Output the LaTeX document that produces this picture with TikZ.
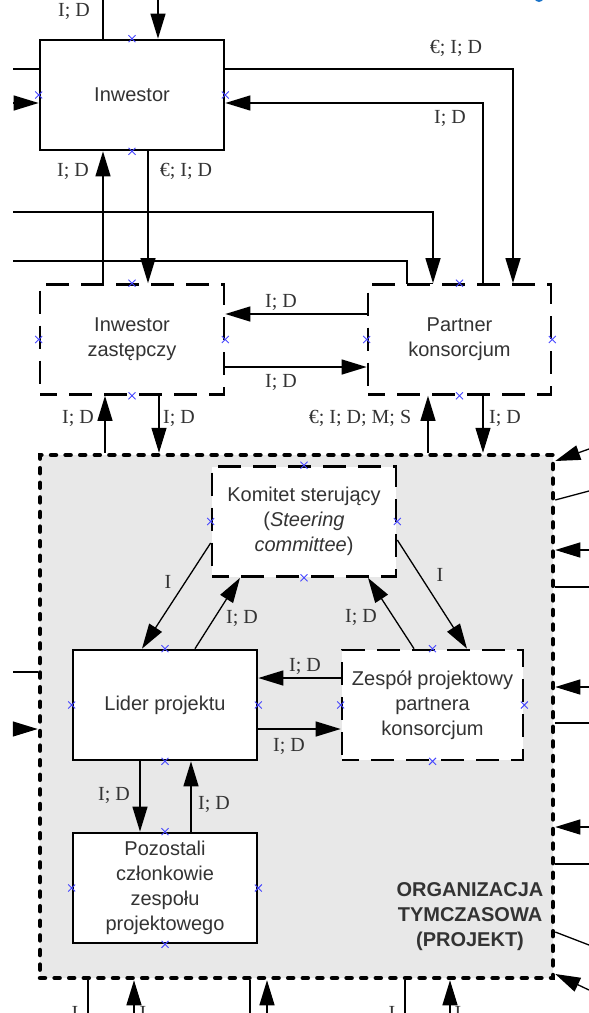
\documentclass[tikz,border=0pt]{standalone}
\usepackage{fontspec}
\setmainfont{Liberation Serif}
\setsansfont{Liberation Sans}
\usetikzlibrary{arrows.meta,calc}

\definecolor{txt}{HTML}{333333}
\definecolor{orgfill}{HTML}{E8E8E8}
\definecolor{xblue}{RGB}{70,70,255}
\definecolor{webblue}{HTML}{1A73C8}

\begin{document}
\begin{tikzpicture}[x=1pt,y=-1pt,
  box/.style={rectangle, draw=black, line width=2.7pt, fill=white, inner sep=0pt,
    font=\sffamily\fontsize{20}{25}\selectfont, text=txt, align=center,
    minimum width=184pt, minimum height=110pt},
  dashbox/.style={box, dash pattern=on 23pt off 12pt, dash phase=6pt},
  orgbox/.style={rectangle, draw=black, fill=orgfill, line width=4.5pt, line cap=round,
    dash pattern=on 5pt off 9.6pt, inner sep=0pt},
  conn/.style={line width=1.3pt, draw=black},
  arr/.style={conn, -{Triangle[length=25pt,width=15pt]}},
  lbl/.style={font=\fontsize{20}{24}\selectfont, text=txt, inner sep=0pt},
  midx/.pic={\draw[xblue, line width=0.9pt] (-3.5,-3.5) -- (3.5,3.5) (-3.5,3.5) -- (3.5,-3.5);},
]
\clip (0,0) rectangle (589,1013);

% temporary organisation (project) area
\node[orgbox, minimum width=513pt, minimum height=523pt] (org) at (296.5,716.5) {};
\node[font=\sffamily\bfseries\fontsize{20}{25}\selectfont, text=txt, align=center, inner sep=0pt]
  (orglbl) at (470,917) {ORGANIZACJA\\TYMCZASOWA\\(PROJEKT)};

% parties
\node[box] (inw) at (132,95) {Inwestor};
\node[dashbox] (iz) at (132,339.5) {Inwestor\\zastępczy};
\node[dashbox, minimum width=183pt] (pk) at (459.5,339.5) {Partner\\konsorcjum};
\node[dashbox] (kom) at (304,521.5) {Komitet sterujący\\(\textit{Steering}\\\textit{committee})};
\node[box] (lid) at (165,705) {Lider projektu};
\node[dashbox, minimum width=181pt] (zes) at (432.5,705) {Zespół projektowy\\partnera\\konsorcjum};
\node[box] (poz) at (165,888) {Pozostali\\członkowie\\zespołu\\projektowego};

% free ends of the connectors leaving the drawing
\coordinate (tA) at (103,-5);
\coordinate (tB) at (158,-5);
\coordinate (lA) at (13,69);
\coordinate (lB) at (13,103);
\coordinate (lC) at (13,212);
\coordinate (lD) at (13,261);
\coordinate (lE) at (13,672);
\coordinate (lF) at (13,729);
\coordinate (rA) at (589,449);
\coordinate (rB) at (589,491);
\coordinate (rC) at (589,550);
\coordinate (rD) at (589,587);
\coordinate (rE) at (589,687);
\coordinate (rF) at (589,723);
\coordinate (rG) at (589,827);
\coordinate (rH) at (589,864);
\coordinate (rI) at (589,945);
\coordinate (rJ) at (589,990);
\coordinate (bA) at (88,1020);
\coordinate (bB) at (134,1020);
\coordinate (bC) at (250,1020);
\coordinate (bD) at (267,1020);
\coordinate (bE) at (405,1020);
\coordinate (bF) at (450,1020);

% connectors around the investor
\draw[conn] (103,0 |- inw.north) -- (tA);
\draw[arr] (tB) -- (158,0 |- inw.north);
\draw[conn] (lA) -- (inw.west |- lA);
\draw[arr] (lB) -- (inw.west |- lB);
\draw[arr] (inw.east |- 0,69) -| (513,0 |- pk.north);
\draw[arr] (483,0 |- pk.north) |- (inw.east |- 0,103);
\draw[arr] (103,0 |- iz.north) -- (103,0 |- inw.south);
\draw[arr] (148,0 |- inw.south) -- (148,0 |- iz.north);
\draw[arr] (lC) -| (433,0 |- pk.north);
\draw[conn] (lD) -| (407,0 |- pk.north) -- (433,0 |- pk.north);
\draw[arr] (pk.west |- 0,314) -- (iz.east |- 0,314);
\draw[arr] (iz.east |- 0,367) -- (pk.west |- 0,367);

% connectors to the project
\draw[arr] (105,0 |- org.north) -- (105,0 |- iz.south);
\draw[arr] (159,0 |- iz.south) -- (159,0 |- org.north);
\draw[arr] (428,0 |- org.north) -- (428,0 |- pk.south);
\draw[arr] (483,0 |- pk.south) -- (483,0 |- org.north);

% connectors inside the project
\draw[arr] (kom.west |- 0,543) -- (142,0 |- lid.north);
\draw[arr] (195,0 |- lid.north) -- (240,0 |- kom.south);
\draw[arr] (kom.east |- 0,540) -- (467,0 |- zes.north);
\draw[arr] (414,0 |- zes.north) -- (368,0 |- kom.south);
\draw[arr] (zes.west |- 0,678) -- (lid.east |- 0,678);
\draw[arr] (lid.east |- 0,729) -- (zes.west |- 0,729);
\draw[arr] (140,0 |- lid.south) -- (140,0 |- poz.north);
\draw[arr] (191,0 |- poz.north) -- (191,0 |- lid.south);

% connectors on the project border
\draw[conn] (lE) -- (org.west |- lE);
\draw[arr] (lF) -- (org.west |- lF);
\draw[arr] (rA) -- (org.east |- 0,461);
\draw[conn] (rB) -- (org.east |- 0,500);
\draw[arr] (rC) -- (org.east |- rC);
\draw[conn] (rD) -- (org.east |- rD);
\draw[arr] (rE) -- (org.east |- rE);
\draw[conn] (rF) -- (org.east |- rF);
\draw[arr] (rG) -- (org.east |- rG);
\draw[conn] (rH) -- (org.east |- rH);
\draw[conn] (rI) -- (org.east |- 0,932);
\draw[arr] (rJ) -- (org.east |- 0,974);
\draw[conn] (org.south -| bA) -- (bA);
\draw[arr] (bB) -- (org.south -| bB);
\draw[conn] (org.south -| bC) -- (bC);
\draw[arr] (bD) -- (org.south -| bD);
\draw[conn] (org.south -| bE) -- (bE);
\draw[arr] (bF) -- (org.south -| bF);

% flow labels
\node[lbl, anchor=base] (n1) at (74,16) {I; D};
\node[lbl] (n2) at (456,48) {€; I; D};
\node[lbl] (n3) at (450,118) {I; D};
\node[lbl] (n4) at (73,171) {I; D};
\node[lbl] (n5) at (186,171) {€; I; D};
\node[lbl] (n6) at (281,302) {I; D};
\node[lbl] (n7) at (281,382) {I; D};
\node[lbl] (n8) at (78,418) {I; D};
\node[lbl] (n9) at (179,418) {I; D};
\node[lbl] (n10) at (360,418) {€; I; D; M; S};
\node[lbl] (n11) at (505,418) {I; D};
\node[lbl] (n12) at (168,582) {I};
\node[lbl] (n13) at (242,618) {I; D};
\node[lbl] (n14) at (440,575) {I};
\node[lbl] (n15) at (361,617) {I; D};
\node[lbl] (n16) at (305,666) {I; D};
\node[lbl] (n17) at (289,746) {I; D};
\node[lbl] (n18) at (114,795) {I; D};
\node[lbl] (n19) at (214,804) {I; D};
\node[lbl, anchor=base] (n20) at (75,1019) {I};
\node[lbl, anchor=base] (n21) at (143,1019) {I};
\node[lbl, anchor=base] (n22) at (392,1019) {I};
\node[lbl, anchor=base] (n23) at (458,1019) {I};

% side midpoint markers
\foreach \b in {inw,iz,pk,kom,lid,zes,poz}
  \foreach \a in {north,south,east,west}
    \pic at (\b.\a) {midx};

\fill[webblue] (539,-2) ellipse (4.5 and 4);
\end{tikzpicture}
\end{document}
